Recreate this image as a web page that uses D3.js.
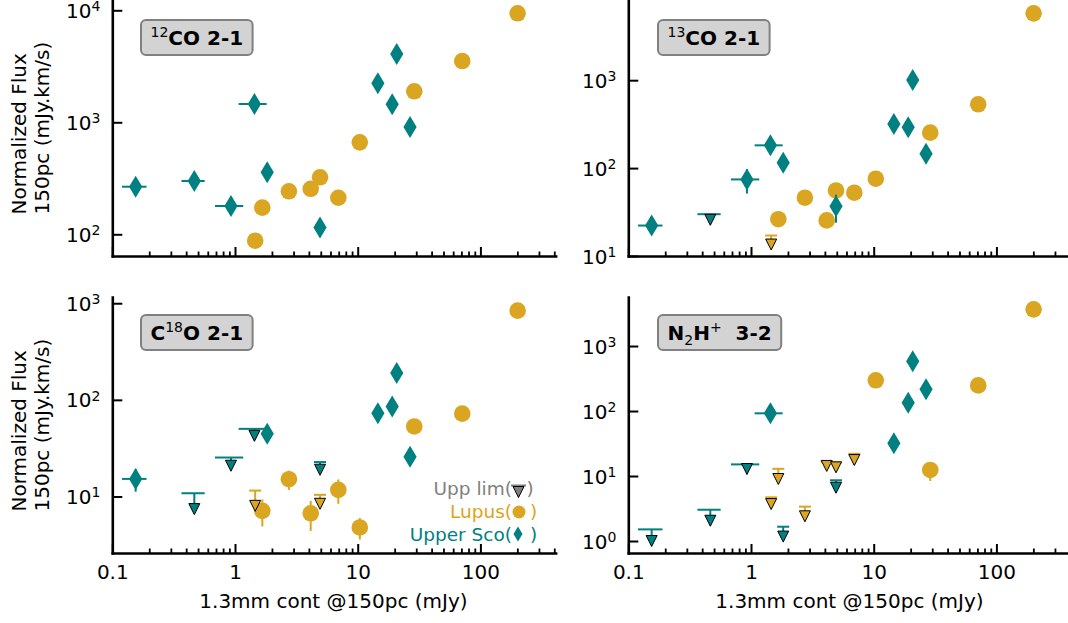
<!DOCTYPE html>
<html><head><meta charset="utf-8">
<script src="https://cdn.jsdelivr.net/npm/d3@7"></script>
<style>
body{margin:0;background:#fff;overflow:hidden;}
svg{display:block;font-family:"DejaVu Sans",sans-serif;}
text{white-space:pre;}
</style></head><body>
<svg id="c" width="1068" height="623"></svg>
<script>
// ---- data (x: 1.3mm continuum @150pc, mJy) ----
const lupusCont   = [1.46, 1.67, 2.75, 4.14, 4.93, 6.95, 10.4, 28.9, 71.1, 201];
const uscoCont    = [0.155, 0.466, 0.927, 1.44, 1.83, 4.93, 14.6, 19.1, 20.8, 26.7];
const uscoContErr = [0.035, 0.10, 0.24, 0.37, 0, 0, 0, 0, 0, 0];

// 12CO 2-1
const co12Lupus    = [87.7, 173, 242, 255, 323, 212, 662, 1893, 3525, 9400];
const co12LupusErr = [0, 0, 0, 0, 0, 0, 0, 0, 0, 0];
const co12LupusLim = [null, null, null, null, null, null, null, null, null, null];
const co12Usco     = [266, 299, 179, 1456, 358, 115, 2230, 1448, 4070, 908];
const co12UscoErr  = [0, 0, 0, 0, 0, 0, 0, 0, 0, 0];
const co12UscoLim  = [null, null, null, null, null, null, null, null, null, null];

// 13CO 2-1
const co13Lupus    = [13.5, 26.2, 46, 25.4, 55.7, 52.5, 75.7, 253, 532, 5760];
const co13LupusErr = [0, 0, 0, 0, 0, 0, 0, 0, 0, 0];
const co13LupusLim = [17.1, null, null, null, null, null, null, null, null, null];
const co13Usco     = [22.2, 25.8, 74.3, 181.5, 115, 36.9, 318, 291, 1008, 146];
const co13UscoErr  = [0, 0, 23, 0, 0, 13, 0, 0, 0, 0];
const co13UscoLim  = [null, 29.9, null, null, null, null, null, null, null, null];

// C18O 2-1
const c18Lupus     = [8.0, 7.1, 15.1, 6.7, 8.4, 11.7, 4.78, 53, 72, 838];
const c18LupusErr  = [0, 2.2, 3.4, 2.3, 0, 3.3, 1.2, 0, 0, 0];
const c18LupusLim  = [11.5, null, null, null, 10.4, null, null, null, null, null];
const c18Usco      = [15.2, 7.4, 20.8, 42.4, 44.5, 18.9, 72.8, 85.3, 190, 25.7];
const c18UscoErr   = [4, 0, 0, 0, 0, 0, 0, 0, 0, 0];
const c18UscoLim   = [null, 10.8, 25.3, 50.1, null, 22.7, null, null, null, null];

// N2H+ 3-2
const n2hLupus     = [3.7, 9.0, 2.4, 14.3, 13.6, 17.6, 297, 12.4, 248, 3670];
const n2hLupusErr  = [0, 0, 0, 0, 0, 0, 0, 4, 0, 0];
const n2hLupusLim  = [4.7, 12.9, 3.38, 16.6, 16.0, 22, null, null, null, null];
const n2hUsco      = [1.0, 2.05, 12.8, 92.2, 1.17, 6.6, 31.9, 134, 582, 216];
const n2hUscoErr   = [0, 0, 0, 0, 0, 0, 0, 0, 0, 0];
const n2hUscoLim   = [1.51, 3.03, 15.1, null, 1.66, 8.6, null, null, null, null];

// ticks / labels
const xTicksMajor = [0.1, 1, 10, 100];
const xTickLabels = ["0.1", "1", "10", "100"];
const xMinor = [0.2,0.3,0.4,0.5,0.6,0.7,0.8,0.9,2,3,4,5,6,7,8,9,20,30,40,50,60,70,80,90,200,300,400];
const xLabelText = "1.3mm cont @150pc (mJy)";
const yLabelLines = ["Normalized Flux", "150pc (mJy.km/s)"];
const legendLabels = ["Upp lim(", "Lupus(", "Upper Sco("];

// ---- layout ----
const GOLD = "#daa520", TEAL = "#008080", GREY = "#808080";
const xDomain = [0.1, 410], xSpan = 443.3;
const svg = d3.select("#c");

const panels = [
  {x0:112.3, yTop:0,   yBot:256, yDom:[64, 12360], yTicks:[1e2,1e3,1e4], xLab:false, yLab:true, box:[141,20],
   title:[{t:"12",s:14,dy:-8},{t:"CO 2-1",s:20,b:1,dy:8}],
   lup:co12Lupus, lupErr:co12LupusErr, lupLim:co12LupusLim, us:co12Usco, usErr:co12UscoErr, usLim:co12UscoLim},
  {x0:628.3, yTop:0,   yBot:256, yDom:[10, 8170], yTicks:[1e1,1e2,1e3], xLab:false, yLab:false, box:[658,20],
   title:[{t:"13",s:14,dy:-8},{t:"CO 2-1",s:20,b:1,dy:8}],
   lup:co13Lupus, lupErr:co13LupusErr, lupLim:co13LupusLim, us:co13Usco, usErr:co13UscoErr, usLim:co13UscoLim},
  {x0:112.3, yTop:297, yBot:553, yDom:[2.6, 1160], yTicks:[1e1,1e2,1e3], xLab:true, yLab:true, box:[141,315], legend:true,
   title:[{t:"C",s:20,b:1},{t:"18",s:14,dy:-8},{t:"O 2-1",s:20,b:1,dy:8}],
   lup:c18Lupus, lupErr:c18LupusErr, lupLim:c18LupusLim, us:c18Usco, usErr:c18UscoErr, usLim:c18UscoLim},
  {x0:628.3, yTop:297, yBot:553, yDom:[0.654, 5680], yTicks:[1e0,1e1,1e2,1e3], xLab:true, yLab:false, box:[658,315],
   title:[{t:"N",s:20,b:1},{t:"2",s:14,dy:5},{t:"H",s:20,b:1,dy:-5},{t:"+",s:14,dy:-8},{t:"  3-2",s:20,b:1,dy:8}],
   lup:n2hLupus, lupErr:n2hLupusErr, lupLim:n2hLupusLim, us:n2hUsco, usErr:n2hUscoErr, usLim:n2hUscoLim}
];

const diamondPath = "M0,-11L6.6,0L0,11L-6.6,0Z";
const triPath = "M-5.5,-5.5L5.5,-5.5L0,5.5Z";

panels.forEach(p => {
  const x = d3.scaleLog().domain(xDomain).range([p.x0, p.x0 + xSpan]);
  const y = d3.scaleLog().domain(p.yDom).range([p.yBot, p.yTop]);
  const g = svg.append("g");

  // ---- axes ----
  const gxm = g.append("g").attr("transform", `translate(0,${p.yBot})`)
    .call(d3.axisBottom(x).tickValues(xMinor).tickSize(-4.5).tickSizeOuter(0).tickFormat(""));
  gxm.select(".domain").remove();
  gxm.selectAll(".tick line").attr("stroke", "#000").attr("stroke-width", 1.8);

  const gx = g.append("g").attr("transform", `translate(0,${p.yBot})`)
    .call(d3.axisBottom(x).tickValues(xTicksMajor).tickSize(-9).tickSizeOuter(0)
      .tickFormat((d, i) => p.xLab ? xTickLabels[i] : ""));
  gx.select(".domain").attr("stroke", "#000").attr("stroke-width", 2.6).attr("stroke-linecap", "square");
  gx.selectAll(".tick line").attr("stroke", "#000").attr("stroke-width", 2);
  gx.selectAll(".tick text").attr("y", 26).attr("dy", 0).attr("font-size", 20)
    .attr("font-family", "DejaVu Sans").attr("fill", "#000");

  const gy = g.append("g").attr("transform", `translate(${p.x0},0)`)
    .call(d3.axisLeft(y).tickValues(p.yTicks).tickSize(-10).tickSizeOuter(0).tickFormat(""));
  gy.select(".domain").attr("stroke", "#000").attr("stroke-width", 2.6).attr("stroke-linecap", "square");
  gy.selectAll(".tick line").attr("stroke", "#000").attr("stroke-width", 2);
  gy.selectAll(".tick text").each(function(d) {
    const t = d3.select(this).attr("x", -12).attr("dy", 7).attr("font-family", "DejaVu Sans")
      .attr("fill", "#000").attr("text-anchor", "end");
    t.append("tspan").attr("font-size", 20).text("10");
    t.append("tspan").attr("font-size", 14).attr("dy", -6.5).text(String(Math.round(Math.log10(d))));
  });

  if (p.xLab) {
    g.append("text").attr("x", p.x0 + xSpan / 2 - 0.5).attr("y", 608).attr("text-anchor", "middle")
      .attr("font-size", 20).text(xLabelText);
  }
  if (p.yLab) {
    const cy = (p.yTop + p.yBot) / 2 - 1;
    [25.5, 48.5].forEach((bx, i) => {
      g.append("text").attr("transform", `translate(${bx},${cy + 87.5}) rotate(-90)`)
        .attr("font-size", 20).attr("text-anchor", "start").text(yLabelLines[i]);
    });
  }

  // ---- title box ----
  const gt = g.append("g");
  const rect = gt.append("rect");
  const tt = gt.append("text").attr("x", p.box[0] + 9.5).attr("y", p.box[1] + 17.5 + 7.3).attr("fill", "#000");
  p.title.forEach(pt => tt.append("tspan").text(pt.t).attr("font-size", pt.s)
    .attr("font-weight", pt.b ? "bold" : "normal").attr("dy", pt.dy || 0));
  const bb = tt.node().getBBox();
  rect.attr("x", p.box[0]).attr("y", p.box[1]).attr("width", bb.width + 19).attr("height", 35)
    .attr("rx", 5).attr("fill", "#d3d3d3").attr("stroke", GREY).attr("stroke-width", 2);

  // ---- data ----
  const gd = g.append("g");
  const lupDet = lupusCont.map((c, i) => ({c, v: p.lup[i], e: p.lupErr[i], lim: p.lupLim[i]}));
  const usDet  = uscoCont.map((c, i) => ({c, ce: uscoContErr[i], v: p.us[i], e: p.usErr[i], lim: p.usLim[i]}));

  // Lupus detections
  lupDet.filter(d => d.lim == null && d.e > 0).forEach(d => {
    gd.append("line").attr("x1", x(d.c)).attr("x2", x(d.c)).attr("y1", y(d.v - d.e)).attr("y2", y(d.v + d.e))
      .attr("stroke", GOLD).attr("stroke-width", 2);
  });
  gd.selectAll(null).data(lupDet.filter(d => d.lim == null)).join("circle")
    .attr("cx", d => x(d.c)).attr("cy", d => y(d.v)).attr("r", 8.3).attr("fill", GOLD);

  // Upper Sco detections
  usDet.filter(d => d.lim == null).forEach(d => {
    if (d.ce > 0) gd.append("line").attr("x1", x(d.c - d.ce)).attr("x2", x(d.c + d.ce))
      .attr("y1", y(d.v)).attr("y2", y(d.v)).attr("stroke", TEAL).attr("stroke-width", 2);
    if (d.e > 0) gd.append("line").attr("x1", x(d.c)).attr("x2", x(d.c))
      .attr("y1", y(d.v - d.e)).attr("y2", y(d.v + d.e)).attr("stroke", TEAL).attr("stroke-width", 2);
  });
  gd.selectAll(null).data(usDet.filter(d => d.lim == null)).join("path")
    .attr("d", diamondPath).attr("transform", d => `translate(${x(d.c)},${y(d.v)})`).attr("fill", TEAL);

  // upper limits
  const ul = [...lupDet.filter(d => d.lim != null).map(d => ({...d, col: GOLD, ce: 0})),
              ...usDet.filter(d => d.lim != null).map(d => ({...d, col: TEAL}))];
  ul.forEach(d => {
    const cx = x(d.c), yb = y(d.lim), yt = y(d.v);
    let xa = cx - 6, xb = cx + 6;
    if (d.ce > 0) { xa = Math.min(xa, x(d.c - d.ce)); xb = Math.max(xb, x(d.c + d.ce)); }
    gd.append("line").attr("x1", xa).attr("x2", xb).attr("y1", yb).attr("y2", yb)
      .attr("stroke", d.col).attr("stroke-width", 2);
    gd.append("line").attr("x1", cx).attr("x2", cx).attr("y1", yb).attr("y2", yt - 5)
      .attr("stroke", d.col).attr("stroke-width", 2);
    gd.append("path").attr("d", triPath).attr("transform", `translate(${cx},${yt})`)
      .attr("fill", d.col).attr("stroke", "#000").attr("stroke-width", 1);
  });

  // ---- legend ----
  if (p.legend) {
    const lg = g.append("g").attr("font-size", 18.5);
    const rows = [{y: 495, col: GREY}, {y: 517.7, col: GOLD}, {y: 540.7, col: TEAL}];
    rows.forEach((r, i) => {
      lg.append("text").attr("x", 512).attr("y", r.y).attr("text-anchor", "end").attr("fill", r.col).text(legendLabels[i]);
      lg.append("text").attr("x", i === 0 ? 526.5 : 530).attr("y", r.y).attr("fill", r.col).text(")");
    });
    // markers
    lg.append("line").attr("x1", 511).attr("x2", 526).attr("y1", 485.5).attr("y2", 485.5).attr("stroke", GREY).attr("stroke-width", 2);
    lg.append("line").attr("x1", 518.5).attr("x2", 518.5).attr("y1", 485.5).attr("y2", 487).attr("stroke", GREY).attr("stroke-width", 2);
    lg.append("path").attr("d", triPath).attr("transform", "translate(518.5,492)").attr("fill", GREY).attr("stroke", "#000");
    lg.append("circle").attr("cx", 519).attr("cy", 512).attr("r", 6.5).attr("fill", GOLD);
    lg.append("path").attr("d", "M0,-7.5L4.5,0L0,7.5L-4.5,0Z").attr("transform", "translate(518,534)").attr("fill", TEAL);
  }
});
</script>
</body></html>
